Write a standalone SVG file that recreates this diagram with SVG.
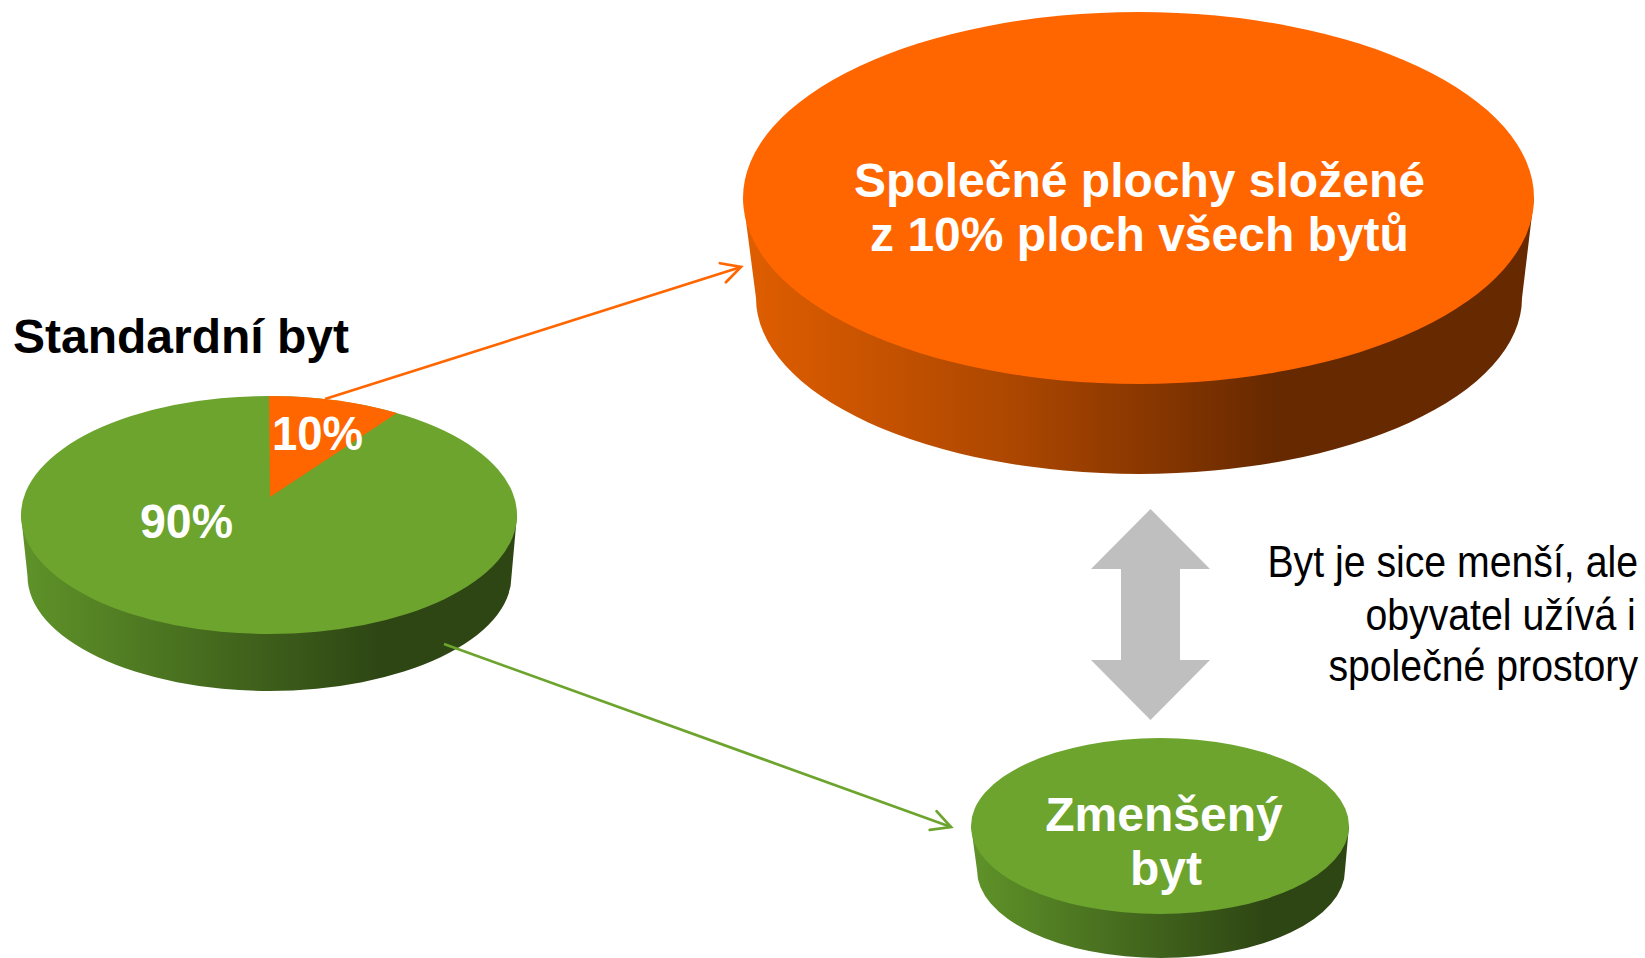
<svg xmlns="http://www.w3.org/2000/svg" width="1645" height="958" viewBox="0 0 1645 958">
  <style>
    .bold { font-family: "Liberation Sans", Arial, sans-serif; font-weight: bold; font-size: 48px; }
    .white { fill: #ffffff; }
    .black { fill: #000000; }
    .note { font-family: "Liberation Sans", Arial, sans-serif; font-size: 45px; fill: #000000; text-anchor: end; }
    .green-top { fill: #6ca42e; }
    .orange-top { fill: #ff6600; }
  </style>
  <defs>
    <linearGradient id="gOrangeSide" gradientUnits="userSpaceOnUse" x1="743" y1="0" x2="1275" y2="0">
      <stop offset="0" stop-color="#e05e00"/>
      <stop offset="0.5" stop-color="#ad4700"/>
      <stop offset="1" stop-color="#672900"/>
    </linearGradient>
    <linearGradient id="gGreenSideL" gradientUnits="userSpaceOnUse" x1="21" y1="0" x2="380" y2="0">
      <stop offset="0" stop-color="#5f9329"/>
      <stop offset="1" stop-color="#2e4614"/>
    </linearGradient>
    <linearGradient id="gGreenSideS" gradientUnits="userSpaceOnUse" x1="971" y1="0" x2="1265" y2="0">
      <stop offset="0" stop-color="#5f9329"/>
      <stop offset="1" stop-color="#2e4614"/>
    </linearGradient>
    <marker id="headOrange" markerUnits="userSpaceOnUse" viewBox="-22 -13 26 26" refX="0" refY="0" markerWidth="26" markerHeight="26" orient="auto" overflow="visible">
      <path d="M -19 -10 L 0 0 L -19 10" fill="none" stroke="#ff6600" stroke-width="2.7" stroke-linecap="round" stroke-linejoin="miter"/>
    </marker>
    <marker id="headGreen" markerUnits="userSpaceOnUse" viewBox="-22 -13 26 26" refX="0" refY="0" markerWidth="26" markerHeight="26" orient="auto" overflow="visible">
      <path d="M -19 -10 L 0 0 L -19 10" fill="none" stroke="#6ca42e" stroke-width="2.7" stroke-linecap="round" stroke-linejoin="miter"/>
    </marker>
  </defs>

  <rect x="0" y="0" width="1645" height="958" fill="#ffffff"/>

  <!-- Standard apartment pie -->
  <g id="standard-byt">
    <text class="bold black" x="13" y="353" font-size="47">Standardní byt</text>
    <path d="M 21 515 L 27.5 576 A 242 115 0 0 0 511.5 576 L 517 515 Z" fill="url(#gGreenSideL)"/>
    <ellipse class="green-top" cx="269" cy="515" rx="248" ry="119"/>
    <path class="orange-top" d="M 270 497 L 269 396 A 248 119 0 0 1 397 413.1 Z"/>
    <text class="bold white" x="272" y="450" textLength="91" lengthAdjust="spacingAndGlyphs">10%</text>
    <text class="bold white" x="140" y="538" textLength="93" lengthAdjust="spacingAndGlyphs">90%</text>
  </g>

  <!-- Shared spaces cylinder -->
  <g id="spolecne-plochy">
    <path d="M 743 198 L 756 298 A 383 176 0 0 0 1522 298 L 1534 198 Z" fill="url(#gOrangeSide)"/>
    <ellipse class="orange-top" cx="1138.5" cy="198" rx="395.5" ry="186"/>
    <text class="bold white" x="1139.5" y="197" text-anchor="middle">Společné plochy složené</text>
    <text class="bold white" x="1139.5" y="251" text-anchor="middle">z 10% ploch všech bytů</text>
  </g>

  <!-- Reduced apartment cylinder -->
  <g id="zmenseny-byt">
    <path d="M 971 826 L 977 870 A 184 88 0 0 0 1345 870 L 1349 826 Z" fill="url(#gGreenSideS)"/>
    <ellipse class="green-top" cx="1160" cy="826" rx="189" ry="88"/>
    <text class="bold white" x="1164" y="831" text-anchor="middle">Zmenšený</text>
    <text class="bold white" x="1166" y="885" text-anchor="middle">byt</text>
  </g>

  <!-- Double arrow -->
  <g id="double-arrow">
    <polygon points="1150.5,509 1210,569 1180,569 1180,660 1210,660 1150.5,720 1091,660 1121,660 1121,569 1091,569" fill="#bfbfbf"/>
  </g>

  <!-- Note -->
  <g id="note" transform="translate(1638 0) scale(0.872 1)">
    <text class="note" x="0" y="577">Byt je sice menší, ale</text>
    <text class="note" x="-2.5" y="630">obyvatel užívá i</text>
    <text class="note" x="0" y="681">společné prostory</text>
  </g>

  <!-- Connectors -->
  <g id="connectors" fill="none" stroke-width="2.7">
    <line x1="325" y1="399" x2="741" y2="267" stroke="#ff6600" marker-end="url(#headOrange)"/>
    <line x1="444" y1="644" x2="951" y2="827" stroke="#6ca42e" marker-end="url(#headGreen)"/>
  </g>
</svg>
